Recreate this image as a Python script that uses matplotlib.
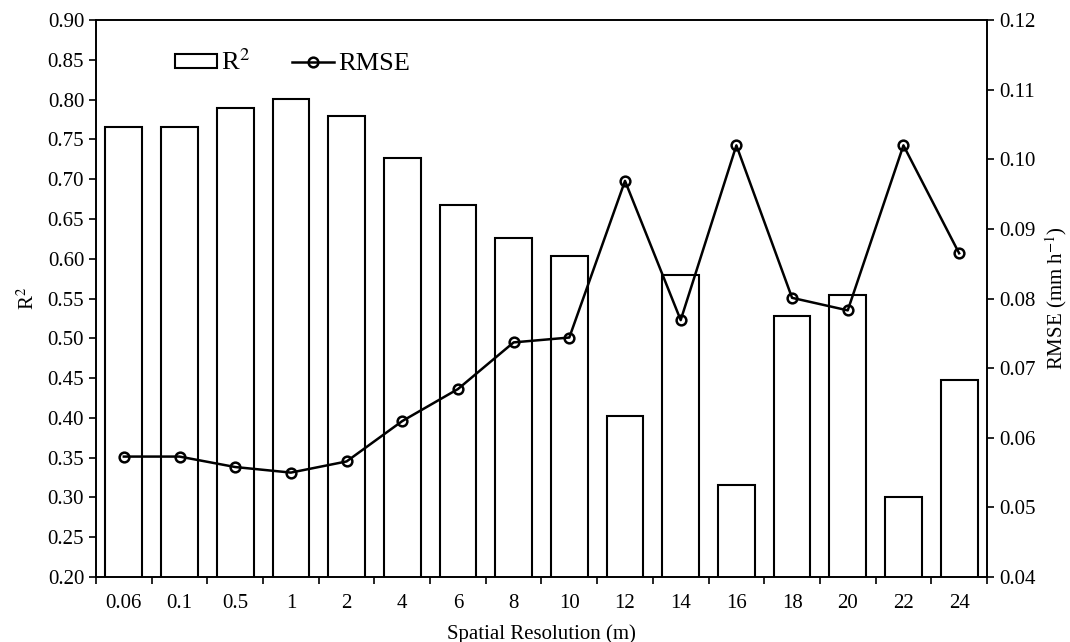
import matplotlib
matplotlib.use('Agg')
import matplotlib.pyplot as plt
import numpy as np

plt.rcParams['font.family'] = ['Liberation Serif', 'DejaVu Serif']
plt.rcParams['mathtext.fontset'] = 'stix'

# data
resolutions = ['0.06', '0.1', '0.5', '1', '2', '4', '6', '8', '10',
               '12', '14', '16', '18', '20', '22', '24']
r2 = [0.766, 0.765, 0.789, 0.801, 0.779, 0.727, 0.668, 0.626, 0.603,
      0.402, 0.579, 0.316, 0.528, 0.554, 0.300, 0.447]
rmse = [0.0573, 0.0573, 0.0558, 0.0550, 0.0566, 0.0624, 0.0670, 0.0737, 0.0744,
        0.0969, 0.0769, 0.1020, 0.0801, 0.0783, 0.1020, 0.0865]

fig = plt.figure(figsize=(10.7, 6.42), dpi=100)
ax = fig.add_axes([0.0897, 0.1012, 0.8327, 0.8676])
x = np.arange(len(resolutions))

bars = ax.bar(x, r2, width=0.66, bottom=0, color='white', edgecolor='black',
              linewidth=1.5, label='R$^2$')
ax.set_ylim(0.20, 0.90)
ax.set_yticks(np.arange(0.20, 0.901, 0.05))
ax.set_yticklabels([f'{v:.2f}' for v in np.arange(0.20, 0.901, 0.05)])
ax.set_xlim(-0.5, len(resolutions) - 0.5)
ax.set_xticks(x)
ax.set_xticklabels(resolutions)
ax.set_xticks(np.arange(-0.5, len(resolutions), 1.0), minor=True)
ax.tick_params(axis='x', which='major', length=0, pad=12, labelsize=15)
ax.tick_params(axis='x', which='minor', length=5, width=1.2, direction='out')
ax.tick_params(axis='y', length=5, width=1.2, direction='out', labelsize=15)
ax.set_xlabel('Spatial Resolution (m)', fontsize=15, labelpad=8)
ax.set_ylabel('R$^2$', fontsize=15, labelpad=6)
for s in ax.spines.values():
    s.set_linewidth(1.2)

ax2 = ax.twinx()
line, = ax2.plot(x, rmse, color='black', linewidth=1.8, marker='o',
                 markersize=7, markerfacecolor='none', markeredgewidth=1.8,
                 label='RMSE')
ax2.set_ylim(0.04, 0.12)
ax2.set_yticks(np.arange(0.04, 0.1201, 0.01))
ax2.set_yticklabels([f'{v:.2f}' for v in np.arange(0.04, 0.1201, 0.01)])
ax2.tick_params(axis='y', length=5, width=1.2, direction='out', labelsize=15)
ax2.set_ylabel('RMSE (mm h$^{-1}$)', fontsize=15, labelpad=6)
for s in ax2.spines.values():
    s.set_linewidth(1.2)

leg = ax.legend([bars, line], ['R$^2$', 'RMSE'], ncol=2, frameon=False,
                loc='upper left', bbox_to_anchor=(0.062, 0.99),
                fontsize=19, handlelength=1.6, handleheight=0.45,
                handletextpad=0.15, columnspacing=1.6)

fig.savefig('out.png', dpi=100)
